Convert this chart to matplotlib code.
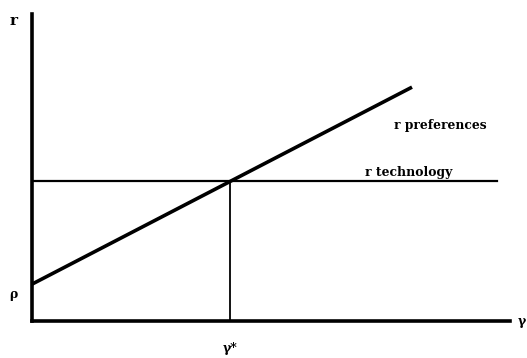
import matplotlib
matplotlib.use("Agg")
import matplotlib.pyplot as plt
import numpy as np

# Model parameters (arbitrary units)
rho = 1.2            # intercept of the preference schedule
r_technology = 4.55  # return set by technology
gamma_star = 4.15    # equilibrium growth rate
gamma_pref_end = 7.95
gamma_tech_end = 9.73
x_max, y_max = 10.0, 10.0

slope = (r_technology - rho) / gamma_star
gamma_pref = np.array([0.0, gamma_pref_end])
r_pref = rho + slope * gamma_pref

fig = plt.figure(figsize=(5.27, 3.58), dpi=100)
ax = fig.add_axes([32 / 527, 1 - 321 / 358, (510 - 32) / 527, (321 - 14) / 358])
ax.set_xlim(0, x_max)
ax.set_ylim(0, y_max)
for s in ["top", "right"]:
    ax.spines[s].set_visible(False)
for s in ["left", "bottom"]:
    ax.spines[s].set_linewidth(2.6)
    ax.spines[s].set_color("black")
ax.set_xticks([])
ax.set_yticks([])
ax.patch.set_alpha(0)

ax.plot(gamma_pref, r_pref, color="black", lw=2.6, solid_capstyle="butt")
ax.plot([0, gamma_tech_end], [r_technology, r_technology], color="black", lw=1.6)
ax.plot([gamma_star, gamma_star], [0, r_technology], color="black", lw=1.3)

font = dict(family="DejaVu Serif", fontweight="bold", color="black")
ax.text(-0.38, 9.78, "r", ha="center", va="center", fontsize=11, **font)
ax.text(-0.38, 0.85, "ρ", ha="center", va="center", fontsize=9, **font)
ax.text(gamma_star, -0.9, "γ*", ha="center", va="center", fontsize=9, **font)
ax.text(10.25, 0.0, "γ", ha="center", va="center", fontsize=9, clip_on=False, **font)
ax.text(8.54, 6.38, "r preferences", ha="center", va="center", fontsize=8.8, **font)
ax.text(7.89, 4.85, "r technology", ha="center", va="center", fontsize=8.9, **font)

fig.savefig("out.png", dpi=100)
